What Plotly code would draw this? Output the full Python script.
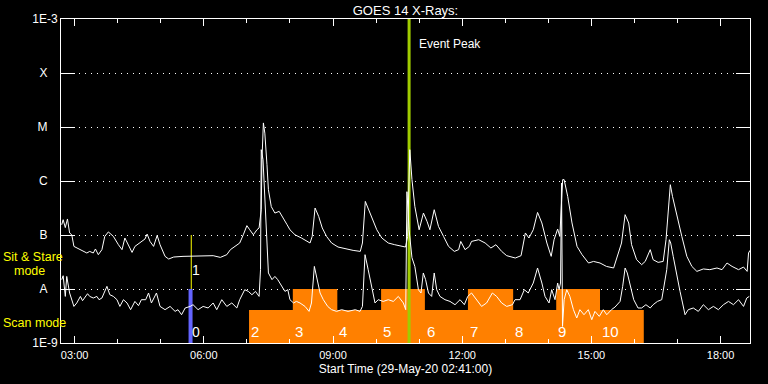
import math
import pandas as pd
import plotly.graph_objects as go

START = pd.Timestamp("2020-05-29 02:41:00")
END = pd.Timestamp("2020-05-29 18:41:00")

# Long channel (1-8 A) : minutes after 02:41, flux W/m^2
long_min = [1, 3, 6, 9, 12, 15, 18, 27, 36, 40,
            45, 48, 52, 57, 61, 66, 73, 80, 85, 89,
            94, 99, 103, 110, 117, 120, 124, 129, 134, 138,
            145, 150, 157, 170, 184, 198, 212, 222, 231, 236,
            243, 249, 254, 259, 263, 268, 273, 276, 279, 280,
            282, 284, 287, 289, 293, 298, 304, 310, 315, 319,
            326, 335, 347, 350, 354, 359, 364, 370, 377, 386,
            396, 407, 417, 420, 424, 427, 433, 440, 447, 456,
            465, 475, 480, 483, 485, 486, 489, 493, 499, 505,
            510, 514, 520, 526, 533, 540, 548, 554, 557, 563,
            569, 572, 582, 591, 599, 606, 614, 621, 633, 641,
            647, 652, 658, 664, 670, 677, 683, 687, 692, 695,
            699, 701, 706, 712, 719, 726, 735, 742, 751, 760,
            770, 774, 781, 786, 791, 795, 802, 809, 814, 821,
            825, 832, 839, 843, 846, 849, 852, 858, 865, 872,
            879, 886, 895, 904, 914, 921, 928, 935, 944, 951,
            956, 958, 960]
long_flux = [1.55e-7, 1.92e-7, 1.37e-7, 1.98e-7, 1.09e-7, 1.01e-7, 6.15e-8, 5.35e-8, 4.64e-8, 4.97e-8,
             4.64e-8, 5.51e-8, 4.32e-8, 5.35e-8, 9.42e-8, 1.14e-7, 9.42e-8, 6.61e-8, 5.35e-8, 8.80e-8,
             6.61e-8, 4.76e-8, 6.15e-8, 7.11e-8, 8.43e-8, 1.04e-7, 7.61e-8, 6.15e-8, 9.84e-8, 6.61e-8,
             4.02e-8, 3.59e-8, 3.91e-8, 4.02e-8, 4.02e-8, 4.14e-8, 4.14e-8, 3.85e-8, 4.32e-8, 5.35e-8,
             6.15e-8, 7.11e-8, 1.01e-7, 1.49e-7, 1.25e-7, 1.01e-7, 1.25e-7, 1.35e-7, 2.94e-7, 2.48e-6,
             1.19e-5, 7.70e-6, 2.00e-6, 6.90e-7, 3.35e-7, 2.55e-7, 2.74e-7, 2.07e-7, 1.55e-7, 1.25e-7,
             1.01e-7, 8.80e-8, 7.11e-8, 9.42e-8, 3.16e-7, 2.21e-7, 1.35e-7, 9.42e-8, 7.11e-8, 5.99e-8,
             5.51e-8, 5.19e-8, 4.97e-8, 7.11e-8, 4.19e-7, 3.39e-7, 2.07e-7, 1.25e-7, 8.80e-8, 7.11e-8,
             6.61e-8, 6.15e-8, 5.99e-8, 9.42e-8, 6.90e-7, 3.80e-6, 1.06e-6, 3.39e-7, 1.25e-7, 2.55e-7,
             1.79e-7, 1.25e-7, 2.94e-7, 1.44e-7, 9.42e-8, 6.15e-8, 4.97e-8, 5.35e-8, 7.61e-8, 5.35e-8,
             6.15e-8, 7.61e-8, 8.18e-8, 7.11e-8, 5.74e-8, 6.61e-8, 4.97e-8, 4.14e-8, 3.75e-8, 4.14e-8,
             1.09e-7, 8.80e-8, 1.25e-7, 2.62e-7, 1.67e-7, 7.11e-8, 4.02e-8, 8.18e-8, 1.29e-7, 9.42e-8,
             1.06e-6, 1.06e-6, 5.19e-7, 1.67e-7, 6.15e-8, 4.32e-8, 3.03e-8, 3.24e-8, 3.03e-8, 2.62e-8,
             2.45e-8, 3.49e-8, 7.11e-8, 2.38e-7, 1.67e-7, 6.61e-8, 3.49e-8, 2.82e-8, 3.24e-8, 5.35e-8,
             3.49e-8, 3.11e-8, 3.24e-8, 8.18e-8, 2.94e-7, 8.54e-7, 5.19e-7, 2.21e-7, 9.42e-8, 4.02e-8,
             2.62e-8, 2.12e-8, 2.35e-8, 2.28e-8, 2.45e-8, 2.28e-8, 3.03e-8, 2.62e-8, 2.28e-8, 2.55e-8,
             2.12e-8, 4.64e-8, 5.19e-8]

# Short channel (0.5-4 A)
short_min = [1, 3, 6, 8, 12, 15, 18, 22, 27, 30,
             33, 37, 40, 45, 50, 53, 57, 61, 64, 68,
             73, 78, 82, 87, 92, 97, 103, 108, 112, 118,
             122, 126, 133, 138, 145, 152, 159, 163, 168, 173,
             180, 184, 191, 198, 205, 212, 217, 224, 231, 238,
             245, 249, 256, 261, 266, 271, 276, 278, 279, 281.5,
             283.6, 285.3, 289, 294, 298, 302, 307.5, 312, 316, 319,
             324, 328, 333, 340, 345.6, 349, 353, 356, 361, 365.5,
             371.6, 377, 384, 391, 400, 410, 416.6, 420, 423.6, 428,
             433, 437.5, 442, 449, 456, 463, 470, 477, 480.3, 482,
             485, 489, 493, 498, 501.6, 504.8, 508, 512, 516.5, 520,
             523.5, 528, 535, 542, 549, 556, 562, 566.7, 572, 579,
             586, 593, 601, 607, 614, 621, 629, 632.6, 639.6, 645.6,
             651, 658, 664, 670, 674.4, 680, 683.7, 688.3, 692, 694,
             696, 697.4, 698.8, 701, 704.7, 709, 714, 718.6, 723, 728.7,
             734.7, 739.5, 744, 750, 755.6, 760.4, 767, 772, 779, 782.6,
             786, 789, 794, 798, 804, 809, 815, 821, 825, 831,
             837, 840, 844, 847.6, 849.5, 853, 858, 862.5, 866, 869.5,
             874, 881, 888, 895, 902, 909, 916, 923, 930, 937,
             944, 951, 955.5, 959]
short_flux = [1.49e-8, 1.76e-8, 7.29e-9, 1.71e-8, 8.43e-9, 6.34e-9, 4.76e-9, 5.51e-9, 7.29e-9, 6.07e-9,
              6.81e-9, 8.18e-9, 7.29e-9, 6.81e-9, 7.29e-9, 6.34e-9, 6.81e-9, 9.03e-9, 1.12e-8, 7.84e-9,
              7.29e-9, 6.34e-9, 4.76e-9, 6.34e-9, 5.51e-9, 4.14e-9, 5.89e-9, 4.91e-9, 6.34e-9, 6.34e-9,
              8.43e-9, 5.51e-9, 8.43e-9, 4.76e-9, 4.14e-9, 4.76e-9, 3.85e-9, 4.14e-9, 3.34e-9, 4.45e-9,
              4.76e-9, 5.12e-9, 4.14e-9, 4.76e-9, 4.45e-9, 5.51e-9, 4.14e-9, 6.34e-9, 4.76e-9, 5.51e-9,
              4.45e-9, 6.34e-9, 9.70e-9, 9.03e-9, 7.84e-9, 9.03e-9, 7.29e-9, 2.28e-8, 3.80e-6, 2.48e-6,
              6.90e-7, 1.55e-7, 1.98e-8, 1.49e-8, 1.71e-8, 1.49e-8, 1.12e-8, 9.03e-9, 9.70e-9, 6.34e-9,
              5.51e-9, 5.89e-9, 5.51e-9, 4.76e-9, 3.85e-9, 5.51e-9, 2.62e-8, 1.71e-8, 8.43e-9, 6.34e-9,
              4.76e-9, 4.14e-9, 3.85e-9, 4.14e-9, 3.85e-9, 4.14e-9, 3.85e-9, 4.76e-9, 4.32e-8, 2.28e-8,
              1.12e-8, 5.51e-9, 6.34e-9, 5.89e-9, 6.34e-9, 5.89e-9, 7.29e-9, 5.51e-9, 4.14e-9, 6.34e-7,
              1.25e-7, 3.80e-8, 2.62e-8, 9.70e-9, 8.43e-9, 1.98e-8, 1.49e-8, 8.43e-9, 7.29e-9, 1.98e-8,
              9.70e-9, 7.29e-9, 6.34e-9, 5.89e-9, 5.12e-9, 6.34e-9, 5.12e-9, 7.29e-9, 8.43e-9, 6.34e-9,
              4.76e-9, 5.51e-9, 8.43e-9, 7.29e-9, 5.51e-9, 4.76e-9, 5.12e-9, 6.34e-9, 6.34e-9, 9.70e-9,
              8.43e-9, 1.29e-8, 2.45e-8, 1.29e-8, 7.29e-9, 5.51e-9, 9.70e-9, 6.34e-9, 1.29e-8, 9.70e-9,
              1.29e-8, 9.18e-7, 2.03e-9, 6.34e-9, 9.70e-9, 7.29e-9, 4.14e-9, 2.90e-9, 4.14e-9, 3.34e-9,
              4.14e-9, 2.70e-9, 3.85e-9, 3.11e-9, 4.14e-9, 3.34e-9, 4.14e-9, 4.64e-9, 5.89e-9, 1.12e-8,
              2.45e-8, 1.98e-8, 9.70e-9, 6.34e-9, 4.45e-9, 4.45e-9, 5.12e-9, 4.45e-9, 5.12e-9, 5.89e-9,
              6.34e-9, 1.04e-8, 2.28e-8, 8.18e-8, 7.11e-8, 4.02e-8, 1.71e-8, 9.03e-9, 5.51e-9, 3.34e-9,
              4.14e-9, 4.45e-9, 3.85e-9, 5.12e-9, 4.14e-9, 4.76e-9, 4.14e-9, 5.12e-9, 5.89e-9, 5.12e-9,
              6.34e-9, 4.76e-9, 6.81e-9, 7.29e-9]

# Observation blocks (minutes after 02:41): edges, labels, modes
block_edges = [262, 323, 385, 446, 507, 567, 630, 690, 751, 812]
block_labels = ["2", "3", "4", "5", "6", "7", "8", "9", "10"]
block_modes = ["scan", "sit", "scan", "sit", "scan", "sit", "scan", "sit", "scan"]
mode_top = {"scan": 4.1e-9, "sit": 1.0e-8}
FLOOR = 1e-9

# Early markers "0" and "1"
mark_labels = ["0", "1"]
mark_min = [180.5, 181.5]
mark_lo = [1e-9, 1e-8]
mark_hi = [1e-8, 1e-7]
mark_colors = ["#6464ff", "#ffff00"]
mark_widths = [4, 1]
mark_label_y = [1.62e-9, 2.28e-8]

peak_min = 485  # Event peak

y_tickvals = [1e-9, 1e-8, 1e-7, 1e-6, 1e-5, 1e-4, 1e-3]
y_ticktext = ["1E-9", "A", "B", "C", "M", "X", "1E-3"]

FONT = "Liberation Sans"
WHITE = "#ffffff"
YELLOW = "#ffff00"
ORANGE = "#ff8000"


def t(m):
    return START + pd.to_timedelta(m, unit="min")


fig = go.Figure()

# blocks polygon
bx, by = [], []
for i, mode in enumerate(block_modes):
    s, e = t(block_edges[i]), t(block_edges[i + 1])
    top = mode_top[mode]
    bx += [s, s, e, e, s, None]
    by += [FLOOR, top, top, FLOOR, FLOOR, None]
fig.add_trace(go.Scatter(x=bx, y=by, mode="lines", fill="toself", fillcolor=ORANGE,
                         line=dict(width=0, color=ORANGE), hoverinfo="skip"))

# markers
for lab, m, lo, hi, c, w in zip(mark_labels, mark_min, mark_lo, mark_hi, mark_colors, mark_widths):
    fig.add_trace(go.Scatter(x=[t(m), t(m)], y=[lo, hi], mode="lines",
                             line=dict(color=c, width=w), hoverinfo="skip"))

# event peak line
fig.add_trace(go.Scatter(x=[t(peak_min), t(peak_min)], y=[1e-9, 1e-3], mode="lines",
                         line=dict(color="#a0cc00", width=3), hoverinfo="skip"))

fig.add_trace(go.Scatter(x=[t(m) for m in long_min], y=long_flux, mode="lines",
                         line=dict(color=WHITE, width=1)))
fig.add_trace(go.Scatter(x=[t(m) for m in short_min], y=short_flux, mode="lines",
                         line=dict(color=WHITE, width=1)))

ann = []
for i, lab in enumerate(block_labels):
    ann.append(dict(x=t(block_edges[i]), y=math.log10(1.6e-9), text=lab, showarrow=False,
                    xanchor="left", yanchor="middle", xshift=0,
                    font=dict(family=FONT, size=15, color=WHITE)))
for lab, m, yv in zip(mark_labels, mark_min, mark_label_y):
    ann.append(dict(x=t(m), y=math.log10(yv), text=lab, showarrow=False,
                    xanchor="left", yanchor="middle", xshift=-1,
                    font=dict(family=FONT, size=14, color=WHITE)))
ann.append(dict(x=t(peak_min), y=math.log10(3.5e-4), text="Event Peak", showarrow=False,
                xanchor="left", yanchor="middle", xshift=8,
                font=dict(family=FONT, size=12, color=WHITE)))
# left-side mode labels
ann.append(dict(xref="paper", yref="paper", x=0, y=0.266, xshift=-60, text="Sit & Stare",
                showarrow=False, xanchor="left", yanchor="middle",
                font=dict(family=FONT, size=12.5, color=YELLOW)))
ann.append(dict(xref="paper", yref="paper", x=0, y=0.223, xshift=-49, text="mode",
                showarrow=False, xanchor="left", yanchor="middle",
                font=dict(family=FONT, size=12.5, color=YELLOW)))
ann.append(dict(xref="paper", yref="paper", x=0, y=0.061, xshift=-60, text="Scan mode",
                showarrow=False, xanchor="left", yanchor="middle",
                font=dict(family=FONT, size=12.5, color=YELLOW)))

NB = "\u00a0"
y_ticktext_padded = [s if s.startswith("1E") else s + NB * 3 for s in y_ticktext]

fig.update_layout(
    width=768, height=384, autosize=False,
    margin=dict(l=61, r=18, t=19, b=41, pad=0),
    paper_bgcolor="black", plot_bgcolor="black",
    showlegend=False,
    title=dict(text="GOES 14 X-Rays:", x=0.5, xref="paper", y=1 - 10 / 384, yref="container",
               xanchor="center", yanchor="middle",
               font=dict(family=FONT, size=13, color=WHITE)),
    annotations=ann,
    xaxis=dict(type="date", range=[START, END], showline=True, linecolor=WHITE, linewidth=1,
               mirror="ticks", ticks="inside", ticklen=7, tickcolor=WHITE, tickwidth=1,
               dtick=3 * 3600000, tick0="2020-05-29 03:00:00", tickformat="%H:%M",
               tickfont=dict(family=FONT, size=11, color=WHITE), showgrid=False, zeroline=False,
               automargin=False, ticklabelstandoff=2,
               minor=dict(dtick=3600000, tick0="2020-05-29 03:00:00", ticks="inside", ticklen=4,
                          tickcolor=WHITE, showgrid=False),
               title=dict(text="Start Time (29-May-20 02:41:00)", standoff=4,
                          font=dict(family=FONT, size=12, color=WHITE))),
    yaxis=dict(type="log", range=[-9, -3], tickvals=y_tickvals, ticktext=y_ticktext_padded,
               ticks="inside", ticklen=14, tickcolor=WHITE, tickwidth=1,
               showline=True, linecolor=WHITE, linewidth=1, mirror="ticks",
               showgrid=True, gridcolor=WHITE, gridwidth=1, griddash="1px,5px",
               zeroline=False, automargin=False,
               tickfont=dict(family=FONT, size=12, color=WHITE)),
)

fig.write_html("out.html", config={"displayModeBar": False},
               post_script="document.body.style.margin='0px';"
                           "document.body.style.background='black';")
